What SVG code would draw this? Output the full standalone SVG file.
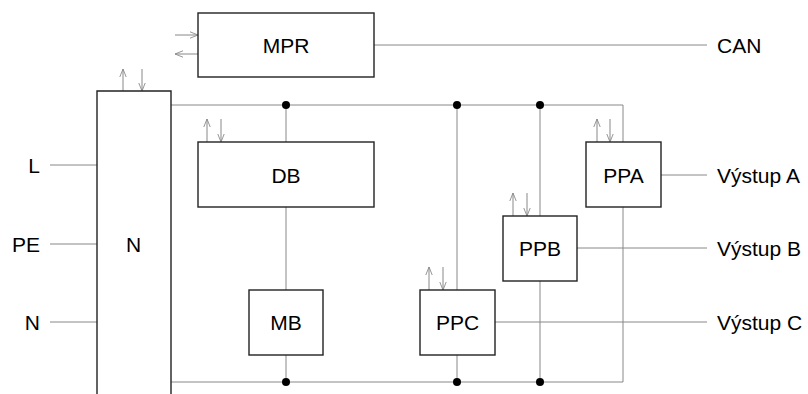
<svg xmlns="http://www.w3.org/2000/svg" width="808" height="394" viewBox="0 0 808 394">
<style>
.box{fill:#fff;stroke:#222;stroke-width:1.4}
.w{fill:none;stroke:#888;stroke-width:1}
.a{fill:none;stroke:#888;stroke-width:1}
.t{font-family:"Liberation Sans",Arial,sans-serif;font-size:21px;fill:#000}
.c{text-anchor:middle}
.e{text-anchor:end}
.dot{fill:#000}
</style>
<defs>
<marker id="arr" viewBox="0 0 10 10" refX="10" refY="5" markerWidth="9" markerHeight="8" markerUnits="userSpaceOnUse" orient="auto">
<path d="M0,1 L10,5 L0,9" fill="none" stroke="#888" stroke-width="1.1"/>
</marker>
</defs>
<rect width="808" height="394" fill="#fff"/>
<g id="connectors">
<path class="w" d="M374,45 H707"/>
<path class="w" d="M171,105 H623 V142"/>
<path class="w" d="M623,207 V382 H171"/>
<path class="w" d="M286,105 V142 M286,207 V290 M286,355 V382"/>
<path class="w" d="M457,105 V290 M457,355 V382"/>
<path class="w" d="M540,105 V216 M540,281 V382"/>
<path class="w" d="M661,175 H707"/>
<path class="w" d="M577,248 H707"/>
<path class="w" d="M495,322 H707"/>
<path class="w" d="M50,165 H97 M50,244 H97 M50,322 H97"/>
<circle class="dot" cx="286" cy="105" r="4"/>
<circle class="dot" cx="457" cy="105" r="4"/>
<circle class="dot" cx="540" cy="105" r="4"/>
<circle class="dot" cx="286" cy="382" r="4"/>
<circle class="dot" cx="457" cy="382" r="4"/>
<circle class="dot" cx="540" cy="382" r="4"/>
<line class="a" x1="175" y1="35" x2="198" y2="35" marker-end="url(#arr)"/>
<line class="a" x1="198" y1="54" x2="175" y2="54" marker-end="url(#arr)"/>
<line class="a" x1="123" y1="91" x2="123" y2="69" marker-end="url(#arr)"/>
<line class="a" x1="142" y1="69" x2="142" y2="91" marker-end="url(#arr)"/>
<line class="a" x1="207" y1="142" x2="207" y2="119" marker-end="url(#arr)"/>
<line class="a" x1="221" y1="119" x2="221" y2="142" marker-end="url(#arr)"/>
<line class="a" x1="597" y1="142" x2="597" y2="119" marker-end="url(#arr)"/>
<line class="a" x1="610" y1="119" x2="610" y2="142" marker-end="url(#arr)"/>
<line class="a" x1="513" y1="216" x2="513" y2="193" marker-end="url(#arr)"/>
<line class="a" x1="527" y1="193" x2="527" y2="216" marker-end="url(#arr)"/>
<line class="a" x1="429" y1="290" x2="429" y2="267" marker-end="url(#arr)"/>
<line class="a" x1="443" y1="267" x2="443" y2="290" marker-end="url(#arr)"/>
</g>
<g id="N"><path class="box" d="M97,400 V91 H171 V400"/><text class="t c" x="133.5" y="252">N</text></g>
<g id="MPR"><rect class="box" x="198" y="13" width="176" height="64"/><text class="t c" x="286" y="53">MPR</text></g>
<g id="DB"><rect class="box" x="198" y="142" width="176" height="65"/><text class="t c" x="286" y="183">DB</text></g>
<g id="MB"><rect class="box" x="249" y="290" width="74" height="65"/><text class="t c" x="286" y="330">MB</text></g>
<g id="PPC"><rect class="box" x="420" y="290" width="75" height="65"/><text class="t c" x="457.5" y="330">PPC</text></g>
<g id="PPB"><rect class="box" x="503" y="216" width="74" height="65"/><text class="t c" x="540" y="256">PPB</text></g>
<g id="PPA"><rect class="box" x="586" y="142" width="75" height="65"/><text class="t c" x="623.5" y="183">PPA</text></g>
<g id="labels">
<text class="t e" x="40" y="173">L</text>
<text class="t e" x="40" y="252">PE</text>
<text class="t e" x="40" y="330">N</text>
<text class="t" x="717" y="53">CAN</text>
<text class="t" x="717" y="183">Výstup A</text>
<text class="t" x="717" y="256">Výstup B</text>
<text class="t" x="717" y="330">Výstup C</text>
</g>
</svg>
